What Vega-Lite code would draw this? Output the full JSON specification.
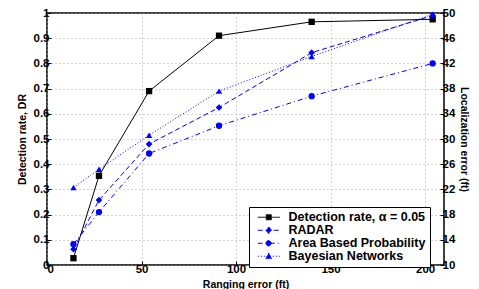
{
  "$schema": "https://vega.github.io/schema/vega-lite/v6.json",
  "width": 397,
  "height": 252,
  "autosize": {"type": "none"},
  "padding": {"left": 47, "top": 13, "right": 35, "bottom": 24},
  "background": "white",
  "config": {
    "view": {"stroke": "black", "strokeWidth": 1.5},
    "font": "Liberation Sans",
    "axis": {
      "labelFont": "Liberation Sans", "labelFontWeight": "bold", "labelFontSize": 11.5, "labelColor": "black", "labelOverlap": false,
      "titleFont": "Liberation Sans", "titleFontWeight": "bold", "titleFontSize": 10.5, "titleColor": "black",
      "domain": false, "tickColor": "black", "tickSize": -4,
      "gridColor": "#aaaaaa", "gridDash": [1, 3], "gridWidth": 1
    }
  },
  "datasets": {
    "dr": [
      {"x": 14, "series": "Detection rate, α = 0.05", "dr": 0.027},
      {"x": 27.5, "series": "Detection rate, α = 0.05", "dr": 0.354},
      {"x": 54, "series": "Detection rate, α = 0.05", "dr": 0.69},
      {"x": 91, "series": "Detection rate, α = 0.05", "dr": 0.91},
      {"x": 140, "series": "Detection rate, α = 0.05", "dr": 0.965},
      {"x": 204, "series": "Detection rate, α = 0.05", "dr": 0.975}
    ],
    "loc": [
      {"x": 14, "series": "RADAR", "err": 12.5},
      {"x": 27.5, "series": "RADAR", "err": 20.3},
      {"x": 54, "series": "RADAR", "err": 29.2},
      {"x": 91, "series": "RADAR", "err": 35.0},
      {"x": 140, "series": "RADAR", "err": 43.7},
      {"x": 204, "series": "RADAR", "err": 49.6},
      {"x": 14, "series": "Area Based Probability", "err": 13.3},
      {"x": 27.5, "series": "Area Based Probability", "err": 18.4},
      {"x": 54, "series": "Area Based Probability", "err": 27.7},
      {"x": 91, "series": "Area Based Probability", "err": 32.1},
      {"x": 140, "series": "Area Based Probability", "err": 36.8},
      {"x": 204, "series": "Area Based Probability", "err": 42.0},
      {"x": 14, "series": "Bayesian Networks", "err": 22.3},
      {"x": 27.5, "series": "Bayesian Networks", "err": 25.2},
      {"x": 54, "series": "Bayesian Networks", "err": 30.6},
      {"x": 91, "series": "Bayesian Networks", "err": 37.6},
      {"x": 140, "series": "Bayesian Networks", "err": 43.1},
      {"x": 204, "series": "Bayesian Networks", "err": 49.8}
    ]
  },
  "layer": [
    {
      "data": {"name": "dr"},
      "encoding": {
        "x": {"field": "x", "type": "quantitative", "scale": {"domain": [0, 210], "nice": false},
          "axis": {"values": [0, 50, 100, 150, 200], "title": "Ranging error (ft)", "titleY": 22, "titleBaseline": "alphabetic", "labelPadding": 2, "labelOverlap": false, "grid": true}},
        "y": {"field": "dr", "type": "quantitative", "scale": {"domain": [0, 1], "nice": false},
          "axis": {"orient": "left", "values": [0, 0.1, 0.2, 0.3, 0.4, 0.5, 0.6, 0.7, 0.8, 0.9, 1], "format": "~g", "title": "Detection rate, DR", "titlePadding": 6, "labelPadding": 2, "labelOverlap": false, "grid": true}}
      },
      "layer": [
        {"mark": {"type": "line", "color": "black", "strokeWidth": 1}},
        {"mark": {"type": "point", "shape": "square", "filled": true, "opacity": 1, "size": 40, "color": "black"}}
      ]
    },
    {
      "data": {"name": "loc"},
      "encoding": {
        "x": {"field": "x", "type": "quantitative", "scale": {"domain": [0, 210], "nice": false},
          "axis": {"values": [0, 50, 100, 150, 200], "title": "Ranging error (ft)", "titleY": 22, "titleBaseline": "alphabetic", "labelPadding": 2, "labelOverlap": false, "grid": true}},
        "y": {"field": "err", "type": "quantitative", "scale": {"domain": [10, 50], "nice": false},
          "axis": {"orient": "right", "values": [10, 14, 18, 22, 26, 30, 34, 38, 42, 46, 50], "title": "Localization error (ft)", "titlePadding": 4, "labelPadding": 2, "labelOverlap": false, "grid": false}}
      },
      "layer": [
        {
          "transform": [{"filter": "datum.series == 'RADAR'"}],
          "layer": [
            {"mark": {"type": "line", "color": "#0000ff", "strokeWidth": 1, "strokeDash": [5, 3]}},
            {"mark": {"type": "point", "shape": "diamond", "filled": true, "opacity": 1, "size": 45, "color": "#0000ff"}}
          ]
        },
        {
          "transform": [{"filter": "datum.series == 'Area Based Probability'"}],
          "layer": [
            {"mark": {"type": "line", "color": "#0000ff", "strokeWidth": 1, "strokeDash": [5, 3, 1, 3]}},
            {"mark": {"type": "point", "shape": "circle", "filled": true, "opacity": 1, "size": 40, "color": "#0000ff"}}
          ]
        },
        {
          "transform": [{"filter": "datum.series == 'Bayesian Networks'"}],
          "layer": [
            {"mark": {"type": "line", "color": "#0000ff", "strokeWidth": 1, "strokeDash": [1, 2]}},
            {"mark": {"type": "point", "shape": "triangle-up", "filled": true, "opacity": 1, "size": 40, "color": "#0000ff"}}
          ]
        },
        {
          "mark": {"type": "point", "filled": true, "opacity": 0, "strokeWidth": 1},
          "encoding": {
            "shape": {"field": "series", "type": "nominal",
              "scale": {"domain": ["Detection rate, α = 0.05", "RADAR", "Area Based Probability", "Bayesian Networks"],
                "range": ["M-0.3,0H4.1M1.4,-0.5H2.4V0.5H1.4Z", "M-0.3,0H4.1M1.9,-0.66L2.46,0L1.9,0.66L1.34,0Z", "M-0.3,0H4.1M1.36,0a0.54,0.54 0 1,0 1.08,0a0.54,0.54 0 1,0 -1.08,0Z", "M-0.3,0H4.1M1.9,-0.66L2.52,0.5L1.28,0.5Z"]},
              "legend": {
                "orient": "none", "legendX": 202, "legendY": 194, "title": null,
                "strokeColor": "black", "fillColor": "white", "padding": 4,
                "labelFont": "Liberation Sans", "labelFontWeight": "bold", "labelFontSize": 12.5, "labelColor": "black",
                "symbolSize": 100, "symbolOpacity": 1, "symbolStrokeWidth": 1, "labelOffset": 23, "rowPadding": 0
              }},
            "fill": {"field": "series", "type": "nominal",
              "scale": {"domain": ["Detection rate, α = 0.05", "RADAR", "Area Based Probability", "Bayesian Networks"], "range": ["black", "#0000ff", "#0000ff", "#0000ff"]}},
            "stroke": {"field": "series", "type": "nominal",
              "scale": {"domain": ["Detection rate, α = 0.05", "RADAR", "Area Based Probability", "Bayesian Networks"], "range": ["black", "#0000ff", "#0000ff", "#0000ff"]}},
            "strokeDash": {"field": "series", "type": "nominal",
              "scale": {"domain": ["Detection rate, α = 0.05", "RADAR", "Area Based Probability", "Bayesian Networks"], "range": [[1, 0], [5, 3], [5, 3, 1, 3], [1, 2]]}}
          }
        }
      ]
    }
  ],
  "resolve": {"scale": {"y": "independent"}}
}
